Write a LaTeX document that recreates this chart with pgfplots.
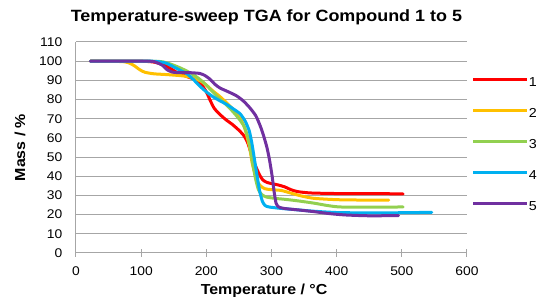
\documentclass[border=0pt]{standalone}
\usepackage{fontspec}
\setmainfont{Liberation Sans}[FakeStretch=1.1]
\usepackage{pgfplots}
\pgfplotsset{compat=1.18}
\definecolor{gridgray}{RGB}{166,166,166}
\definecolor{c1}{RGB}{255,0,0}
\definecolor{c2}{RGB}{255,192,0}
\definecolor{c3}{RGB}{146,208,80}
\definecolor{c4}{RGB}{0,176,240}
\definecolor{c5}{RGB}{112,48,160}
\begin{document}
\begin{tikzpicture}[x=1pt,y=1pt]
\useasboundingbox (0,0) rectangle (544,297);
\begin{axis}[
  at={(76pt,44pt)}, anchor=south west,
  scale only axis, width=391pt, height=211pt,
  xmin=0, xmax=600, ymin=0, ymax=110,
  xtick={0,100,...,600}, ytick={0,10,...,110},
  axis lines*=left,
  axis line style={gridgray, line width=1pt},
  ymajorgrids, grid style={gridgray, line width=1pt},
  tick align=center, major tick length=8pt,
  xtick style={gridgray, line width=1pt},
  ytick style={draw=none},
  /pgf/number format/assume math mode=true,
  ticklabel style={font=\fontsize{12.6}{15}\selectfont},
  yticklabel style={inner sep=0pt, anchor=east, xshift=-9.5pt},
  xticklabel style={inner sep=0pt, anchor=north, yshift=-10pt},
  title={Temperature-sweep TGA for Compound 1 to 5},
  title style={font=\bfseries\fontsize{16.3}{19}\selectfont, at={(axis description cs:0.487,1.071)}, anchor=base, inner sep=0pt},
  xlabel={Temperature / °C},
  xlabel style={font=\bfseries\fontsize{14.5}{17}\selectfont, at={(axis description cs:0.481,-0.148)}, anchor=north, inner sep=0pt},
  ylabel={Mass / \%},
  ylabel style={font=\bfseries\fontsize{14.5}{17}\selectfont, at={(axis description cs:-0.143,0.5)}, anchor=center, inner sep=0pt, rotate=0},
  every axis plot/.append style={line width=3pt, line join=round, line cap=round},
  legend image code/.code={\draw[#1, line cap=butt] (0pt,0.36em) -- (54pt,0.36em);},
  legend style={draw=none, fill=none, inner sep=0pt, outer sep=0pt,
    at={(axis description cs:1,0.526)}, anchor=west, xshift=5pt, yshift=-3pt,
    font=\fontsize{13}{15}\selectfont, row sep=20.5pt,
    nodes={inner sep=0pt},
    /tikz/every odd column/.append style={column sep=0pt}},
  legend cell align=left,
]
\addplot[c1, smooth, tension=0.4] coordinates {
(22,100) (60,100) (100,100) (120,99.5) (135,98) (145,96.2) (158,93.5) (170,92) (182,90.5) (192,88) (200,84) (206,79.5) (212,75.5) (220,72.5) (230,69.5) (240,67) (250,64) (258,61) (264,57) (270,50.5) (276,45) (282,40.5) (287,38) (293,36.8) (300,36.2) (310,35.5) (320,34.5) (330,33) (340,32) (360,31.3) (400,31) (450,31) (502,30.8)};
\addlegendentry{1}
\addplot[c2, smooth, tension=0.4] coordinates {
(22,100) (70,99.8) (82,99) (90,97.5) (98,95.5) (106,94.2) (120,93.4) (140,93) (165,92.3) (180,91.3) (192,89.5) (200,87.5) (210,84.5) (221,81.5) (232,78) (242,74.5) (252,70) (258,66) (263,60) (267,54) (270,47.5) (274,42) (278,37.5) (283,35) (290,33.5) (300,33) (315,32.6) (330,31.2) (345,29.8) (365,28.5) (400,27.8) (440,27.6) (480,27.6)};
\addlegendentry{2}
\addplot[c3, smooth, tension=0.4] coordinates {
(22,100) (100,100) (130,99.8) (145,98.5) (160,96.5) (172,94.5) (182,92.5) (192,90) (200,87.5) (210,84) (220,80.5) (230,77.5) (240,74) (250,70) (258,66) (264,60) (268,53) (272,45) (276,38) (280,33) (285,30.5) (292,29.2) (305,28.5) (320,28) (340,27.2) (365,26) (385,24.8) (405,24) (450,23.9) (502,24)};
\addlegendentry{3}
\addplot[c4, smooth, tension=0.4] coordinates {
(22,100) (110,100) (125,99.8) (138,99) (150,97) (160,95.2) (170,93.5) (180,90.5) (190,87) (200,84) (210,81.5) (220,79.5) (231,77.5) (242,75) (252,72.5) (260,68.5) (266,63.5) (270,57) (274,48.5) (278,40) (282,32) (286,27) (290,24.8) (296,24) (313,23.3) (340,22.5) (364,21.8) (400,21.1) (450,20.9) (500,21) (546,21.2)};
\addlegendentry{4}
\addplot[c5, smooth, tension=0.4] coordinates {
(22,100) (110,100) (122,99.5) (132,98) (140,95.5) (148,94.3) (160,94) (175,94) (190,93.6) (198,92.5) (206,90.5) (213,88) (221,86) (234,84) (246,82) (256,79.5) (266,76) (276,71.5) (283,66) (288,61) (293,55) (297,48.5) (301,40) (304,32) (307,26) (311,24) (320,23.2) (340,22.5) (364,21.6) (390,20.5) (415,19.8) (450,19.4) (495,19.5)};
\addlegendentry{5}
\end{axis}
\end{tikzpicture}
\end{document}
